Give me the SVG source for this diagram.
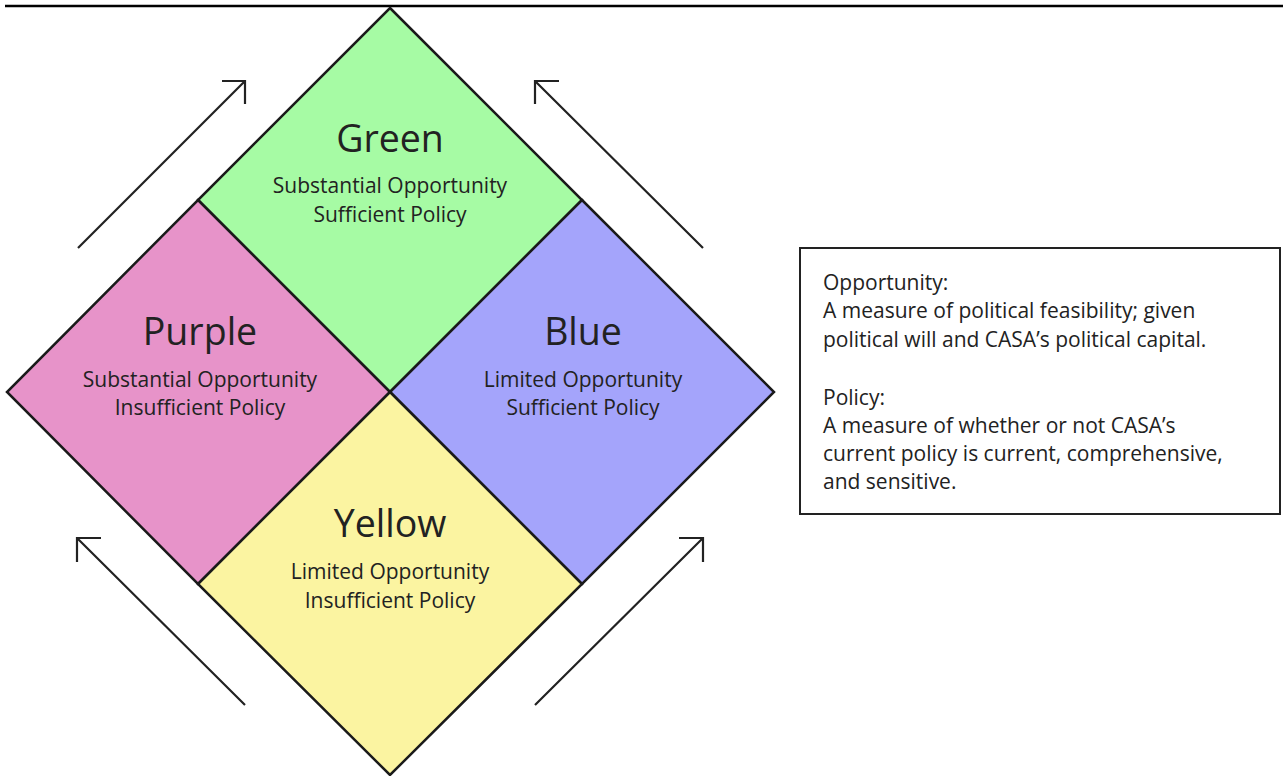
<svg xmlns="http://www.w3.org/2000/svg" width="1283" height="776" viewBox="0 0 1283 776">
<style>
.q{stroke:#1a1a1a;stroke-width:2.5;stroke-linejoin:miter}
.t{font-family:"Open Sans","Liberation Sans",sans-serif;fill:#222;text-anchor:middle}
.h{font-size:37.5px}
.s{font-size:21px}
.a{fill:none;stroke:#222;stroke-width:2.2}
.k{font-family:"Open Sans","Liberation Sans",sans-serif;fill:#222;font-size:21px}
</style>
<rect width="1283" height="776" fill="#fff"/>
<line x1="5" y1="6" x2="1283" y2="6" stroke="#000" stroke-width="2.5"/>
<g id="green"><polygon class="q" points="390,8 582,200 390,392 198,200" fill="#a6fba4"/>
<text class="t h" x="390" y="152">Green</text>
<text class="t s" x="390" y="193">Substantial Opportunity</text>
<text class="t s" x="390" y="222">Sufficient Policy</text></g>
<g id="purple"><polygon class="q" points="198,200 390,392 198,584 7,392" fill="#e793c9"/>
<text class="t h" x="200" y="345">Purple</text>
<text class="t s" x="200" y="387">Substantial Opportunity</text>
<text class="t s" x="200" y="415">Insufficient Policy</text></g>
<g id="blue"><polygon class="q" points="582,200 774,392 582,584 390,392" fill="#a4a4fb"/>
<text class="t h" x="583" y="345">Blue</text>
<text class="t s" x="583" y="387">Limited Opportunity</text>
<text class="t s" x="583" y="415">Sufficient Policy</text></g>
<g id="yellow"><polygon class="q" points="390,392 582,584 390,775 198,584" fill="#fbf4a1"/>
<text class="t h" x="390" y="537">Yellow</text>
<text class="t s" x="390" y="579">Limited Opportunity</text>
<text class="t s" x="390" y="608">Insufficient Policy</text></g>
<g id="connectors">
<path class="a" d="M78,248 L245,81 M222,81 H245 V104"/>
<path class="a" d="M703,248 L535,81 M559,81 H535 V104"/>
<path class="a" d="M245,705 L77,538 M101,538 H77 V562"/>
<path class="a" d="M535,705 L703,538 M679,538 H703 V562"/>
</g>
<g id="legend">
<rect x="800" y="248" width="480" height="266" fill="#fff" stroke="#222" stroke-width="2"/>
<text class="k" x="823" y="290">Opportunity:</text>
<text class="k" x="823" y="318">A measure of political feasibility; given</text>
<text class="k" x="823" y="347">political will and CASA’s political capital.</text>
<text class="k" x="823" y="405">Policy:</text>
<text class="k" x="823" y="433">A measure of whether or not CASA’s</text>
<text class="k" x="823" y="461">current policy is current, comprehensive,</text>
<text class="k" x="823" y="489">and sensitive.</text>
</g>
</svg>
